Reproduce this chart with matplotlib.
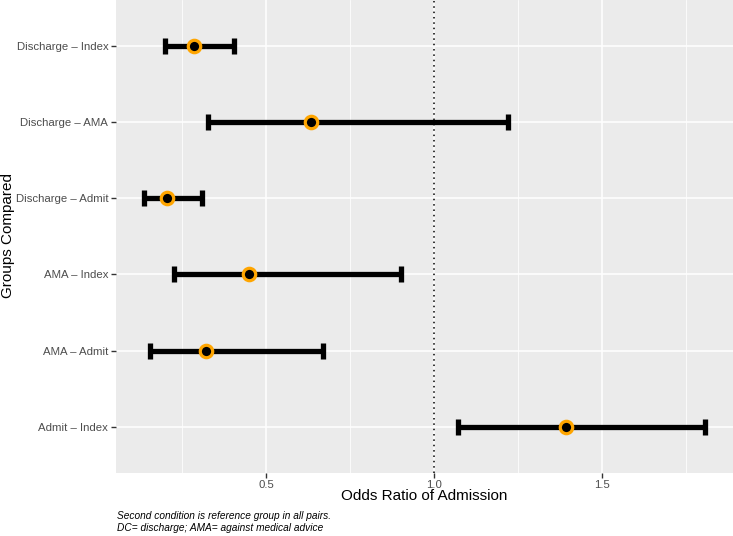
import numpy as np
import matplotlib
matplotlib.use("Agg")
from matplotlib import pyplot as plt
from matplotlib.ticker import MultipleLocator

plt.rcParams['font.family'] = ['Liberation Sans', 'DejaVu Sans']

groups = ["Admit – Index", "AMA – Admit", "AMA – Index",
          "Discharge – Admit", "Discharge – AMA", "Discharge – Index"]
odds_ratio = [1.393, 0.321, 0.449, 0.205, 0.634, 0.286]
ci_low = [1.071, 0.155, 0.226, 0.137, 0.327, 0.199]
ci_high = [1.807, 0.670, 0.902, 0.310, 1.220, 0.405]

W, H = 733, 536
fig = plt.figure(figsize=(W / 100, H / 100), dpi=100)
ax = fig.add_axes([116 / W, 1 - 472.6 / H, (W - 116) / W, 472.6 / H])
ax.set_facecolor("#EBEBEB")

y = np.arange(1, len(groups) + 1)
or_arr = np.array(odds_ratio)
err = [or_arr - np.array(ci_low), np.array(ci_high) - or_arr]

ax.axvline(1.0, color="black", linestyle=(0, (1, 2.5)), linewidth=1.1, zorder=2)
ax.errorbar(or_arr, y, xerr=err, fmt="none", ecolor="black", elinewidth=3.8,
            capsize=5.5, capthick=3.8, zorder=3)
ax.scatter(or_arr, y, s=80, facecolor="black", edgecolor="#FFA500",
           linewidth=2.3, zorder=4)

lo, hi = min(ci_low), max(ci_high)
pad = (hi - lo) * 0.05
ax.set_xlim(lo - pad, hi + pad)
ax.set_ylim(0.4, len(groups) + 0.6)

ax.set_xticks([0.5, 1.0, 1.5])
ax.set_xticklabels(["0.5", "1.0", "1.5"])
ax.xaxis.set_minor_locator(MultipleLocator(0.25))
ax.set_yticks(y)
ax.set_yticklabels(groups)

ax.grid(True, which="major", color="white", linewidth=1.1, zorder=0)
ax.grid(True, which="minor", axis="x", color="white", linewidth=0.55, zorder=0)
ax.set_axisbelow(True)
for s in ax.spines.values():
    s.set_visible(False)

ax.tick_params(axis="both", which="major", length=3.5, width=1.0, color="#333333",
               labelcolor="#4D4D4D", labelsize=8.2, pad=2)
ax.tick_params(axis="both", which="minor", length=0)

fig.text((116 + W) / 2 / W, 1 - 496 / H, "Odds Ratio of Admission",
         fontsize=11, ha="center", va="center")
fig.text(8 / W, 1 - 236 / H, "Groups Compared", fontsize=11, rotation=90,
         ha="center", va="center")

fig.text(117 / W, 1 - 516 / H, "Second condition is reference group in all pairs.",
         style="italic", fontsize=7.3, va="center")
fig.text(117 / W, 1 - 528 / H, "DC= discharge; AMA= against medical advice",
         style="italic", fontsize=7.3, va="center")

fig.savefig("out.png", dpi=100)
